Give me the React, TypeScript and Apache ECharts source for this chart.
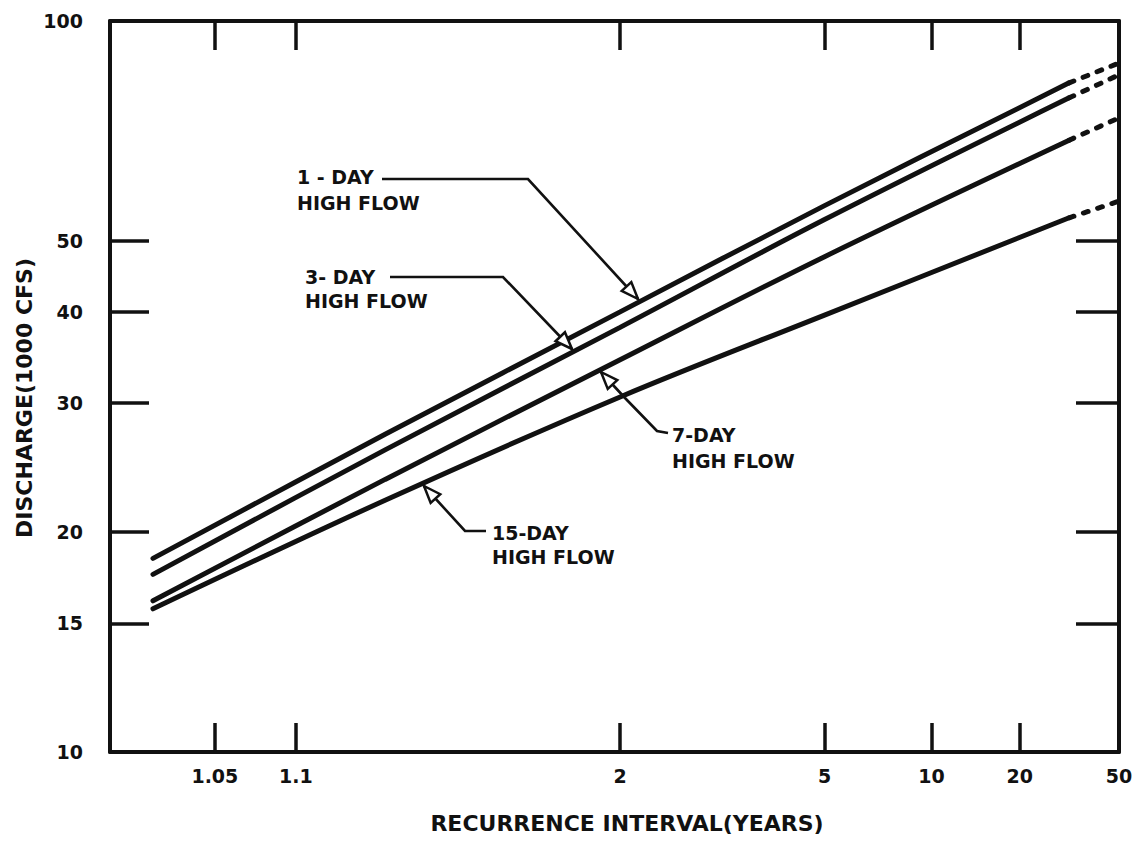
import React, { useEffect, useRef } from "react";
import * as echarts from "echarts";

// ---- data ----
const xTickYears = [1.05, 1.1, 2, 5, 10, 20, 50];
const xTickLabels = ["1.05", "1.1", "2", "5", "10", "20", "50"];
const yTickValues = [10, 15, 20, 30, 40, 50, 100];
const yInnerTicks = [15, 20, 30, 40, 50];

const solidYears = [1.028, 1.2, 2, 5, 31];
const dashYears = [31, 50];

const oneDaySolid = [18.4, 27.2, 40.0, 55.9, 82.3];
const oneDayDash = [82.3, 87.6];
const threeDaySolid = [17.5, 25.9, 38.1, 53.5, 78.5];
const threeDayDash = [78.5, 84.4];
const sevenDaySolid = [16.1, 23.6, 34.4, 47.6, 68.7];
const sevenDayDash = [68.7, 73.7];
const fifteenDaySolid = [15.7, 22.1, 30.6, 39.6, 53.8];
const fifteenDayDash = [53.8, 56.7];

// ---- normal-probability scale helpers ----
function invNorm(p: number): number {
  const a = [-3.969683028665376e1, 2.209460984245205e2, -2.759285104469687e2, 1.38357751867269e2, -3.066479806614716e1, 2.506628277459239];
  const b = [-5.447609879822406e1, 1.615858368580409e2, -1.556989798598866e2, 6.680131188771972e1, -1.328068155288572e1];
  const c = [-7.784894002430293e-3, -3.223964580411365e-1, -2.400758277161838, -2.549732539343734, 4.374664141464968, 2.938163982698783];
  const d = [7.784695709041462e-3, 3.224671290700398e-1, 2.445134137142996, 3.754408661907416];
  const pl = 0.02425;
  if (p < pl) {
    const q = Math.sqrt(-2 * Math.log(p));
    return (((((c[0] * q + c[1]) * q + c[2]) * q + c[3]) * q + c[4]) * q + c[5]) / ((((d[0] * q + d[1]) * q + d[2]) * q + d[3]) * q + 1);
  }
  if (p > 1 - pl) {
    const q = Math.sqrt(-2 * Math.log(1 - p));
    return -(((((c[0] * q + c[1]) * q + c[2]) * q + c[3]) * q + c[4]) * q + c[5]) / ((((d[0] * q + d[1]) * q + d[2]) * q + d[3]) * q + 1);
  }
  const q = p - 0.5;
  const r = q * q;
  return ((((((a[0] * r + a[1]) * r + a[2]) * r + a[3]) * r + a[4]) * r + a[5]) * q) / (((((b[0] * r + b[1]) * r + b[2]) * r + b[3]) * r + b[4]) * r + 1);
}
const zOf = (T: number) => invNorm(1 - 1 / T);
const pairs = (years: number[], vals: number[]) => years.map((t, i) => [zOf(t), vals[i]]);

const INK = "#111";
const FONT = '"DejaVu Sans", "Liberation Sans", sans-serif';

function arrowHead(tip: number[], from: number[]) {
  const dx = tip[0] - from[0];
  const dy = tip[1] - from[1];
  const L = Math.hypot(dx, dy);
  const ux = dx / L;
  const uy = dy / L;
  const len = 17;
  const half = 6.5;
  const bx = tip[0] - ux * len;
  const by = tip[1] - uy * len;
  return {
    type: "polygon",
    z: 20,
    shape: { points: [tip, [bx - uy * half, by + ux * half], [bx + uy * half, by - ux * half]] },
    style: { fill: "#fff", stroke: INK, lineWidth: 2.5, lineJoin: "miter" },
  };
}

function leader(points: number[][]) {
  return [
    { type: "polyline", z: 19, shape: { points }, style: { stroke: INK, lineWidth: 2.6, fill: null } },
    arrowHead(points[points.length - 1], points[points.length - 2]),
  ];
}

function label(text: string, x: number, y: number) {
  return {
    type: "text",
    z: 20,
    x,
    y,
    style: {
      text,
      fill: INK,
      font: `bold 19px ${FONT}`,
      textAlign: "left",
      align: "left",
      textVerticalAlign: "middle",
      verticalAlign: "middle",
    },
  };
}

export default function App() {
  const ref = useRef<HTMLDivElement>(null);
  useEffect(() => {
    if (!ref.current) return;
    const chart = echarts.init(ref.current, null, { renderer: "svg" });
    const xTickZ = xTickYears.map(zOf);
    const xFormatter = (v: number) => {
      let best = 0;
      for (let i = 1; i < xTickZ.length; i++) if (Math.abs(xTickZ[i] - v) < Math.abs(xTickZ[best] - v)) best = i;
      return xTickLabels[best];
    };
    const frame = { show: true, onZero: false, lineStyle: { color: INK, width: 4 } };
    const tickFont = { color: INK, fontFamily: FONT, fontWeight: "bold" as const, fontSize: 19 };
    const lineSeries = (name: string, data: number[][], dashed: boolean) => ({
      name,
      type: "line",
      data,
      showSymbol: false,
      symbol: "none",
      smooth: dashed ? false : 0.35,
      lineStyle: dashed
        ? { color: INK, width: 5, type: [5, 10], cap: "round" }
        : { color: INK, width: 5, cap: "round" },
      z: 5,
    });
    chart.setOption({
      animation: false,
      backgroundColor: "#fff",
      grid: { left: 110, right: 24, top: 21, bottom: 89, containLabel: false },
      xAxis: [
        {
          type: "value",
          position: "bottom",
          min: -2.1,
          max: zOf(50),
          axisLine: frame,
          splitLine: { show: false },
          axisTick: { show: true, inside: true, length: 29, customValues: xTickZ, lineStyle: { color: INK, width: 3.5 } },
          axisLabel: { show: true, customValues: xTickZ, formatter: xFormatter, margin: 14, ...tickFont },
        },
        {
          type: "value",
          position: "top",
          min: -2.1,
          max: zOf(50),
          axisLine: frame,
          splitLine: { show: false },
          axisTick: { show: true, inside: true, length: 29, customValues: xTickZ.slice(0, 6), lineStyle: { color: INK, width: 3.5 } },
          axisLabel: { show: false },
        },
      ],
      yAxis: [
        {
          type: "log",
          position: "left",
          min: 10,
          max: 100,
          logBase: 10,
          axisLine: frame,
          splitLine: { show: false },
          minorTick: { show: false },
          axisTick: { show: true, inside: true, length: 39, customValues: yInnerTicks, lineStyle: { color: INK, width: 3.5 } },
          axisLabel: { show: true, customValues: yTickValues, margin: 27, formatter: (v: number) => String(Math.round(v)), ...tickFont },
        },
        {
          type: "log",
          position: "right",
          min: 10,
          max: 100,
          logBase: 10,
          axisLine: frame,
          splitLine: { show: false },
          axisTick: { show: true, inside: true, length: 43, customValues: yInnerTicks, lineStyle: { color: INK, width: 3.5 } },
          axisLabel: { show: false },
        },
      ],
      series: [
        lineSeries("1-DAY HIGH FLOW", pairs(solidYears, oneDaySolid), false),
        lineSeries("1-DAY HIGH FLOW (extended)", pairs(dashYears, oneDayDash), true),
        lineSeries("3-DAY HIGH FLOW", pairs(solidYears, threeDaySolid), false),
        lineSeries("3-DAY HIGH FLOW (extended)", pairs(dashYears, threeDayDash), true),
        lineSeries("7-DAY HIGH FLOW", pairs(solidYears, sevenDaySolid), false),
        lineSeries("7-DAY HIGH FLOW (extended)", pairs(dashYears, sevenDayDash), true),
        lineSeries("15-DAY HIGH FLOW", pairs(solidYears, fifteenDaySolid), false),
        lineSeries("15-DAY HIGH FLOW (extended)", pairs(dashYears, fifteenDayDash), true),
      ],
      graphic: [
        {
          type: "text",
          x: 627,
          y: 823,
          style: {
            text: "RECURRENCE INTERVAL(YEARS)",
            fill: INK,
            font: `bold 22px ${FONT}`,
            textAlign: "center",
            align: "center",
            textVerticalAlign: "middle",
            verticalAlign: "middle",
          },
        },
        {
          type: "text",
          x: 24,
          y: 398,
          rotation: Math.PI / 2,
          style: {
            text: "DISCHARGE(1000 CFS)",
            fill: INK,
            font: `bold 22px ${FONT}`,
            textAlign: "center",
            align: "center",
            textVerticalAlign: "middle",
            verticalAlign: "middle",
          },
        },
        label("1 - DAY", 297, 177),
        label("HIGH FLOW", 297, 203),
        ...leader([[382, 179], [528, 179], [638, 299]]),
        label("3- DAY", 305, 277),
        label("HIGH FLOW", 305, 301),
        ...leader([[390, 277], [503, 277], [572, 349]]),
        label("7-DAY", 672, 435),
        label("HIGH FLOW", 672, 461),
        ...leader([[668, 433], [657, 431], [625, 398], [601, 372]]),
        label("15-DAY", 492, 533),
        label("HIGH FLOW", 492, 557),
        ...leader([[486, 531], [465, 531], [424, 486]]),
      ],
    });
    return () => chart.dispose();
  }, []);
  return <div ref={ref} style={{ position: "fixed", left: 0, top: 0, width: 1143, height: 841, background: "#fff" }} />;
}
